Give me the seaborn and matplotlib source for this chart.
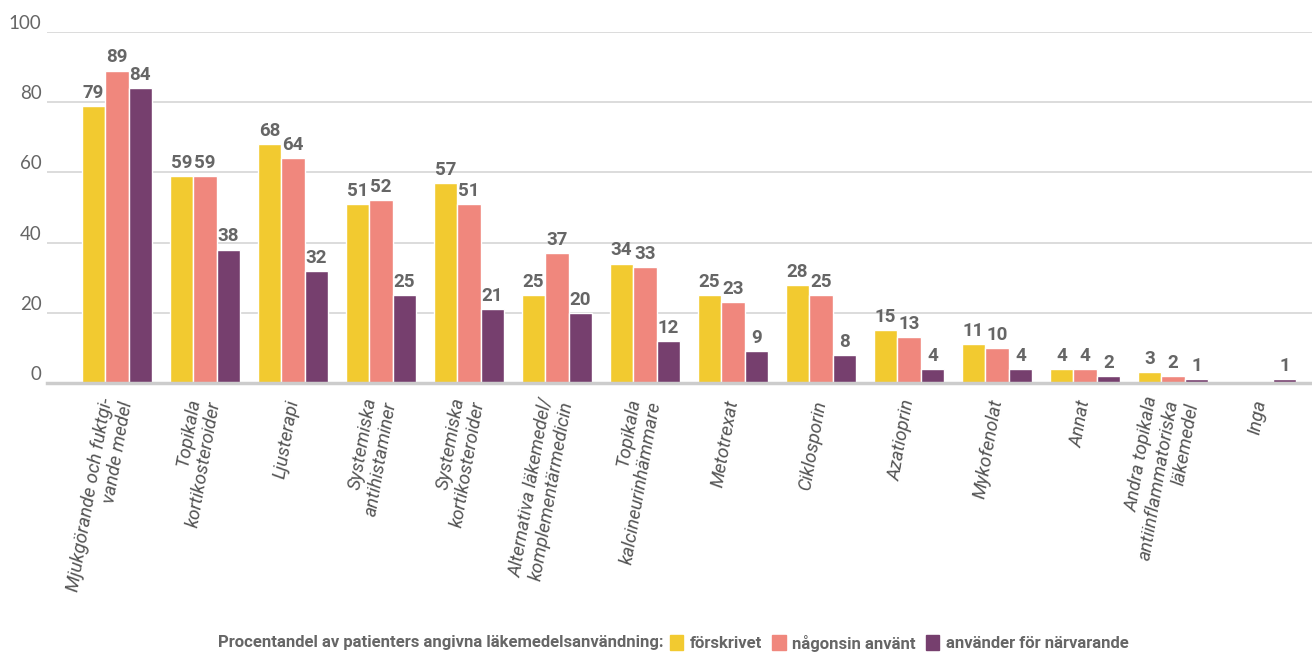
import matplotlib
matplotlib.use("Agg")
import matplotlib.pyplot as plt
import seaborn as sns
import pandas as pd
import numpy as np
from matplotlib import font_manager
from matplotlib.patches import Patch

categories = [
    "Mjukgörande och fuktgi-\nvande medel",
    "Topikala\nkortikosteroider",
    "Ljusterapi",
    "Systemiska\nantihistaminer",
    "Systemiska\nkortikosteroider",
    "Alternativa läkemedel/\nkomplementärmedicin",
    "Topikala\nkalcineurinhämmare",
    "Metotrexat",
    "Ciklosporin",
    "Azatioprin",
    "Mykofenolat",
    "Annat",
    "Andra topikala\nantiinflammatoriska\nläkemedel",
    "Inga",
]
forskrivet = [79, 59, 68, 51, 57, 25, 34, 25, 28, 15, 11, 4, 3, np.nan]
nagonsin = [89, 59, 64, 52, 51, 37, 33, 23, 25, 13, 10, 4, 2, np.nan]
nuvarande = [84, 38, 32, 25, 21, 20, 12, 9, 8, 4, 4, 2, 1, 1]
series_names = ["förskrivet", "någonsin använt", "använder för närvarande"]
colors = ["#F2CA30", "#F0877D", "#763F6E"]
yticks = [0, 20, 40, 60, 80, 100]
legend_title = "Procentandel av patienters angivna läkemedelsanvändning:"

sns.set_theme(style="white")
available = {f.name for f in font_manager.fontManager.ttflist}
narrow = "Liberation Sans Narrow" if "Liberation Sans Narrow" in available else "Roboto"
plt.rcParams["font.family"] = [narrow, "DejaVu Sans"]

df = pd.DataFrame({
    "kategori": categories * 3,
    "serie": sum([[s] * len(categories) for s in series_names], []),
    "värde": forskrivet + nagonsin + nuvarande,
}).dropna()

W, H = 1312, 653
fig = plt.figure(figsize=(W / 100, H / 100), dpi=100)
ax = fig.add_axes([47 / W, 1 - 383 / H, 1 - 47 / W, (383 - 32) / H])

sns.barplot(data=df, x="kategori", y="värde", hue="serie", order=categories,
            hue_order=series_names, palette=colors, errorbar=None, width=0.8,
            saturation=1, legend=False, ax=ax)

for c in ax.containers:
    ax.bar_label(c, labels=[f"{v:.0f}" for v in c.datavalues], padding=3,
                 fontsize=13.5, fontweight="bold", color="#666666")

ax.set_ylim(0, 100)
ax.set_xlim(-0.795, 13.58)
ax.set_yticks(yticks)
ax.set_xlabel("")
ax.set_ylabel("")
ax.yaxis.grid(True, color="#d9d9d9", lw=1.3)
ax.set_axisbelow(True)
for s in ["left", "right", "top"]:
    ax.spines[s].set_visible(False)
ax.spines["bottom"].set_color("#cccccc")
ax.spines["bottom"].set_linewidth(2.5)

ax.tick_params(axis="y", length=0, pad=4, labelsize=13.5, labelcolor="#666666")
for lab in ax.get_yticklabels():
    lab.set_fontfamily(["Lato", "DejaVu Sans"])
    lab.set_va("bottom")

ax.set_xticks(range(len(categories)))
ax.set_xticklabels(categories, rotation=80, ha="right", va="center",
                   rotation_mode="anchor", multialignment="right",
                   fontstyle="italic", fontsize=13.5, color="#555555")
ax.tick_params(axis="x", length=0, pad=12)

ly = 1 - 643 / H
fig.text(663 / W, ly, legend_title, ha="right", va="center",
         fontweight="bold", fontsize=12, color="#666666")
handles = [Patch(color=c, label=s) for c, s in zip(colors, series_names)]
fig.legend(handles=handles, loc="center left", bbox_to_anchor=(670 / W, ly),
           ncol=3, frameon=False, handlelength=0.8, handleheight=1.0,
           handletextpad=0.4, columnspacing=0.6, borderpad=0, borderaxespad=0,
           prop={"weight": "bold", "size": 12}, labelcolor="#666666")

fig.savefig("out.png", dpi=100)
